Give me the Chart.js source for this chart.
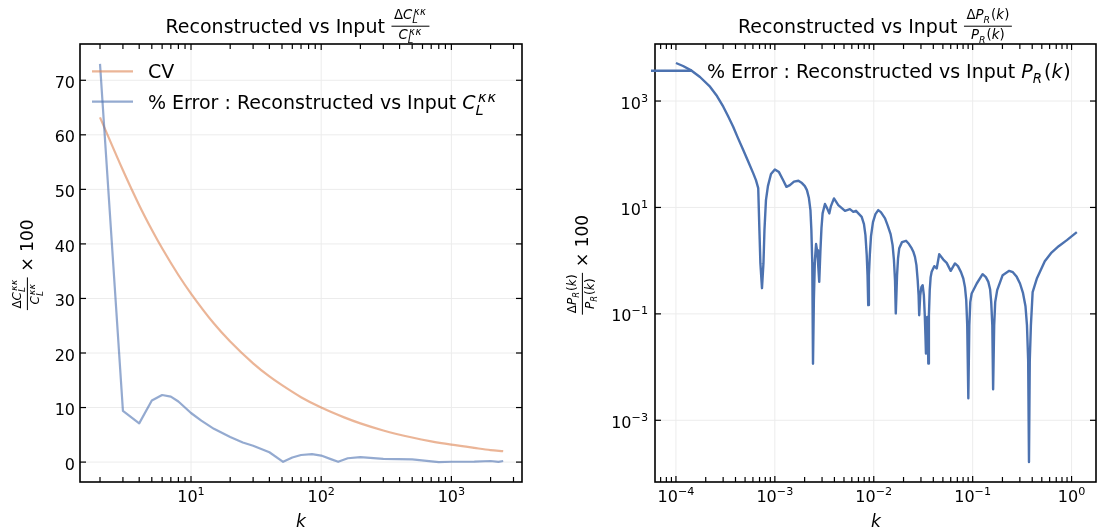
<!DOCTYPE html>
<html>
<head>
<meta charset="utf-8">
<title>Reconstructed vs Input</title>
<script src="https://cdn.jsdelivr.net/npm/chart.js@4.4.1/dist/chart.umd.min.js"></script>
<style>
    html, body { margin: 0; padding: 0; background: #fff; }
    #wrap { position: relative; width: 1097px; height: 531px; overflow: hidden; background: #fff; }
    canvas { position: absolute; top: 0; }
    #c1 { left: 0; }
    #c2 { left: 548px; }
</style>
</head>
<body>
<div id="wrap">
    <canvas id="c1" width="548" height="531"></canvas>
    <canvas id="c2" width="549" height="531"></canvas>
</div>
<script>
    'use strict'

    // left panel: % error of reconstructed C_L^kk and the cosmic variance
    var clK = [2, 3, 4, 5, 6, 7, 8, 10, 12, 15, 20, 25, 30, 40, 51, 60, 70, 85, 100, 120, 135, 160, 200, 300, 500, 800, 1000, 1500, 2000, 2300, 2500];
    var clErr = [73.0, 9.4, 7.1, 11.3, 12.3, 12.0, 11.1, 9.0, 7.6, 6.1, 4.6, 3.6, 3.0, 1.8, 0.05, 0.85, 1.3, 1.45, 1.2, 0.5, 0.05, 0.7, 0.9, 0.6, 0.5, 0.0, 0.06, 0.1, 0.2, 0.05, 0.2];
    var cvK = [2, 3, 4, 5, 6, 8, 10, 15, 20, 30, 40, 50, 70, 100, 150, 200, 300, 500, 700, 1000, 1500, 2000, 2500];
    var cvPct = [63.2, 53.5, 47.1, 42.6, 39.2, 34.3, 30.9, 25.4, 22.1, 18.1, 15.7, 14.1, 11.9, 10.0, 8.2, 7.1, 5.8, 4.5, 3.8, 3.2, 2.6, 2.2, 2.0];

    // right panel: % error of reconstructed P_R(k)
    var pkK = [
        1.0e-4, 1.18e-4, 1.44e-4, 1.75e-4, 2.21e-4, 2.60e-4, 3.01e-4, 3.36e-4, 3.79e-4, 4.24e-4,
        4.79e-4, 5.35e-4, 6.05e-4, 6.44e-4, 6.79e-4, 6.98e-4, 7.14e-4, 7.41e-4, 7.67e-4, 7.85e-4,
        8.13e-4, 8.51e-4, 9.14e-4, 1.00e-3, 1.10e-3, 1.21e-3, 1.31e-3, 1.42e-3, 1.56e-3, 1.73e-3,
        1.88e-3, 2.01e-3, 2.11e-3, 2.21e-3, 2.29e-3, 2.34e-3, 2.39e-3, 2.43e-3, 2.48e-3, 2.54e-3,
        2.61e-3, 2.67e-3, 2.73e-3, 2.81e-3, 2.89e-3, 2.96e-3, 3.04e-3, 3.21e-3, 3.37e-3, 3.55e-3,
        3.69e-3, 3.96e-3, 4.38e-3, 5.12e-3, 5.74e-3, 6.21e-3, 6.61e-3, 7.55e-3, 7.96e-3, 8.24e-3,
        8.49e-3, 8.65e-3, 8.79e-3, 8.93e-3, 9.12e-3, 9.38e-3, 9.82e-3, 1.04e-2, 1.11e-2, 1.18e-2,
        1.30e-2, 1.39e-2, 1.48e-2, 1.55e-2, 1.60e-2, 1.64e-2, 1.67e-2, 1.72e-2, 1.76e-2, 1.81e-2,
        1.93e-2, 2.12e-2, 2.27e-2, 2.42e-2, 2.52e-2, 2.61e-2, 2.70e-2, 2.78e-2, 2.84e-2, 2.88e-2,
        2.95e-2, 3.03e-2, 3.12e-2, 3.21e-2, 3.28e-2, 3.33e-2, 3.37e-2, 3.42e-2, 3.47e-2, 3.52e-2,
        3.56e-2, 3.61e-2, 3.68e-2, 3.76e-2, 3.85e-2, 4.09e-2, 4.33e-2, 4.59e-2, 5.05e-2, 5.46e-2,
        6.00e-2, 6.62e-2, 7.10e-2, 7.62e-2, 8.04e-2, 8.36e-2, 8.61e-2, 8.81e-2, 9.04e-2, 9.25e-2,
        9.46e-2, 9.77e-2, 0.110, 0.126, 0.136, 0.144, 0.150, 0.154, 0.158, 0.161,
        0.165, 0.169, 0.177, 0.201, 0.234, 0.255, 0.279, 0.301, 0.323, 0.342,
        0.354, 0.364, 0.371, 0.378, 0.388, 0.404, 0.447, 0.536, 0.619, 0.741,
        0.897, 1.13];
    var pkErr = [
        5190, 4550, 3720, 2830, 1860, 1240, 782, 522, 329, 201,
        120, 74.4, 43.7, 32.7, 23.1, 3.75, 0.897, 0.304, 0.897, 3.75,
        13.7, 25.2, 42.4, 51.9, 46.2, 32.7, 24.4, 26.3, 30.6, 31.7,
        28.7, 25.2, 21.2, 15.0, 8.91, 3.75, 0.897, 0.0116, 0.181, 1.02,
        2.05, 1.58, 0.938, 0.399, 1.58, 4.08, 7.73, 11.6, 9.72, 7.73,
        10.6, 14.8, 11.1, 8.65, 9.31, 8.28, 8.65, 6.67, 4.86, 3.02,
        1.27, 0.534, 0.146, 0.534, 1.27, 2.89, 5.30, 7.50, 8.91, 8.17,
        6.22, 4.46, 3.15, 1.96, 1.02, 0.430, 0.102, 0.534, 1.11, 1.72,
        2.23, 2.36, 2.05, 1.70, 1.45, 1.18, 0.824, 0.430, 0.224, 0.0944,
        0.224, 0.318, 0.346, 0.224, 0.0944, 0.0397, 0.0180, 0.0493, 0.0877, 0.0397,
        0.0117, 0.0944, 0.279, 0.490, 0.617, 0.789, 0.713, 1.32, 1.05, 0.910,
        0.643, 0.887, 0.789, 0.608, 0.462, 0.318, 0.181, 0.0612, 0.00259, 0.0612,
        0.166, 0.242, 0.372, 0.557, 0.490, 0.399, 0.291, 0.166, 0.0612, 0.00383,
        0.0612, 0.166, 0.279, 0.534, 0.643, 0.608, 0.496, 0.372, 0.245, 0.139,
        0.0612, 0.0135, 1.64e-4, 0.0135, 0.0612, 0.256, 0.469, 0.979, 1.38, 1.87,
        2.43, 3.44];

    // tick labels
    var clYTicks = [0, 10, 20, 30, 40, 50, 60, 70];
    var clXExp = [1, 2, 3];
    var pkXExp = [-4, -3, -2, -1, 0];
    var pkYExp = [-3, -1, 1, 3];

    var BLUE = '#4c72b0';
    var FONT = '"DejaVu Sans"';

    function setFont(ctx, size, italic) {
        ctx.font = (italic ? 'italic ' : '') + size + 'px ' + FONT;
    }

    function spacedWidth(ctx, text, ls) {
        return text ? ctx.measureText(text).width + (ls || 0) * text.length : 0;
    }

    function spacedText(ctx, text, x, y, ls) {
        for (var i = 0; i < text.length; i++) {
            ctx.fillText(text[i], x, y);
            x += ctx.measureText(text[i]).width + (ls || 0);
        }
    }

    // tiny math-text layout: plain runs, gaps, stacked scripts and fractions
    function runWidth(ctx, r) {
        if (r.gap) return r.gap;
        if (r.num) return Math.max(runsWidth(ctx, r.num), runsWidth(ctx, r.den)) + 2 * r.pad;
        if (r.sup !== undefined) {
            setFont(ctx, r.s, true);
            return Math.max((r.lead || 0) + spacedWidth(ctx, r.sup, r.ls), spacedWidth(ctx, r.sub, 0)) + 0.5;
        }
        setFont(ctx, r.s, r.i);
        return ctx.measureText(r.t).width;
    }

    function runsWidth(ctx, runs) {
        var w = 0;
        runs.forEach(function (r) { w += runWidth(ctx, r); });
        return w;
    }

    function drawRuns(ctx, runs, x, y) {
        runs.forEach(function (r) {
            var w = runWidth(ctx, r);
            if (r.gap) {
                // nothing to draw
            } else if (r.num) {
                var bar = y - r.axis;
                ctx.fillRect(x + 0.5, bar - 0.5, w - 1, 1);
                drawRuns(ctx, r.num, x + (w - runsWidth(ctx, r.num)) / 2, bar - r.nUp);
                drawRuns(ctx, r.den, x + (w - runsWidth(ctx, r.den)) / 2, bar + r.dDn);
            } else if (r.sup !== undefined) {
                setFont(ctx, r.s, true);
                if (r.sup) spacedText(ctx, r.sup, x + (r.lead || 0), y - r.up, r.ls);
                if (r.sub) ctx.fillText(r.sub, x, y + r.dn);
            } else {
                setFont(ctx, r.s, r.i);
                ctx.fillText(r.t, x, y + (r.dy || 0));
            }
            x += w;
        });
    }

    // C_L^{kappa kappa}
    function ckk(s, ss, up, dn, ls, lead) {
        return [{ t: 'C', s: s, i: true },
            { sup: '\u03ba\u03ba', sub: 'L', s: ss, up: up, dn: dn, ls: ls, lead: lead }];
    }

    // P_R(k)
    function prk(s, ss, dn, g) {
        return [{ t: 'P', s: s, i: true }, { sup: '', sub: 'R', s: ss, dn: dn }, { gap: g },
            { t: '(', s: s }, { t: 'k', s: s, i: true }, { gap: g / 2 }, { t: ')', s: s }];
    }

    function pow10(exp, size) {
        var e = exp < 0 ? '\u2212' + (-exp) : String(exp);
        return [{ t: '10', s: size }, { t: e, s: size * 0.7, dy: -size * 0.44 }];
    }

    function frac(f, num, den) {
        return { num: num, den: den, axis: f.axis, nUp: f.nUp, dDn: f.dDn, pad: f.pad };
    }

    function minorTicks(min, max) {
        var out = [];
        for (var e = Math.floor(Math.log10(min)); e <= Math.ceil(Math.log10(max)); e++) {
            for (var m = 2; m < 10; m++) {
                var v = m * Math.pow(10, e);
                if (v > min && v < max) out.push(v);
            }
        }
        return out;
    }

    function hline(ctx, x0, x1, y) { ctx.beginPath(); ctx.moveTo(x0, y); ctx.lineTo(x1, y); ctx.stroke(); }
    function vline(ctx, x, y0, y1) { ctx.beginPath(); ctx.moveTo(x, y0); ctx.lineTo(x, y1); ctx.stroke(); }

    // frame, inward ticks, grid, labels, legend and title drawn by hand
    function decorate(spec) {
        return {
            id: 'decorate',
            beforeDatasetsDraw: function (chart) {
                var ctx = chart.ctx, a = chart.chartArea, sx = chart.scales.x, sy = chart.scales.y;
                ctx.save();
                ctx.strokeStyle = '#ececec';
                ctx.lineWidth = 1;
                spec.xTicks.forEach(function (t) { vline(ctx, sx.getPixelForValue(t.v), a.top, a.bottom); });
                spec.yTicks.forEach(function (t) { hline(ctx, a.left, a.right, sy.getPixelForValue(t.v)); });
                ctx.restore();
            },
            afterDatasetsDraw: function (chart) {
                var ctx = chart.ctx, a = chart.chartArea, sx = chart.scales.x, sy = chart.scales.y;
                ctx.save();
                ctx.strokeStyle = '#000';
                ctx.fillStyle = '#000';

                ctx.lineWidth = 1.2;
                spec.xTicks.forEach(function (t) {
                    var p = sx.getPixelForValue(t.v);
                    vline(ctx, p, a.bottom, a.bottom - 6);
                    vline(ctx, p, a.top, a.top + 6);
                });
                spec.xMinor.forEach(function (v) {
                    var p = sx.getPixelForValue(v);
                    vline(ctx, p, a.bottom, a.bottom - 5);
                    vline(ctx, p, a.top, a.top + 5);
                });
                spec.yTicks.forEach(function (t) {
                    var p = sy.getPixelForValue(t.v);
                    hline(ctx, a.left, a.left + 6, p);
                    hline(ctx, a.right, a.right - 6, p);
                });

                ctx.lineWidth = 1.6;
                ctx.strokeRect(a.left, a.top, a.right - a.left, a.bottom - a.top);

                ctx.textAlign = 'left';
                ctx.textBaseline = 'alphabetic';
                spec.xTicks.forEach(function (t) {
                    var w = runsWidth(ctx, t.runs);
                    drawRuns(ctx, t.runs, sx.getPixelForValue(t.v) - w / 2, 502);
                });
                spec.yTicks.forEach(function (t) {
                    var w = runsWidth(ctx, t.runs);
                    drawRuns(ctx, t.runs, spec.yTickRight - w, sy.getPixelForValue(t.v) + 7.6);
                });

                // legend
                ctx.lineWidth = spec.legendWidth;
                spec.legend.forEach(function (e) {
                    ctx.strokeStyle = e.color;
                    hline(ctx, spec.legendX[0], spec.legendX[1], e.y);
                    drawRuns(ctx, e.runs, spec.legendX[2], e.y + 6.8);
                });

                // title and axis labels
                drawRuns(ctx, spec.title, spec.titleX, 32.5);

                setFont(ctx, 17, true);
                ctx.textAlign = 'center';
                ctx.fillText('k', spec.cx, 527);
                ctx.textAlign = 'left';

                ctx.translate(spec.yLabelX, 265);
                ctx.rotate(-Math.PI / 2);
                var lw = runsWidth(ctx, spec.yLabel);
                drawRuns(ctx, spec.yLabel, -lw / 2, 0);
                ctx.restore();
            }
        };
    }

    function points(xs, ys) {
        return xs.map(function (x, i) { return { x: x, y: ys[i] }; });
    }

    function baseOptions(pad, xmin, xmax, ytype, ymin, ymax) {
        return {
            responsive: false,
            animation: false,
            events: [],
            layout: { padding: pad },
            plugins: { legend: { display: false }, tooltip: { enabled: false } },
            elements: { point: { radius: 0 } },
            scales: {
                x: { type: 'logarithmic', display: false, bounds: 'data', min: xmin, max: xmax },
                y: { type: ytype, display: false, bounds: 'data', min: ymin, max: ymax }
            }
        };
    }

    var titleFrac = { axis: 6.3, nUp: 7.2, dDn: 12.8, pad: 3 };
    var labelFrac = { axis: 5.6, nUp: 6.4, dDn: 11.3, pad: 2 };

    // ---- left chart ----
    var leftX = [1.404, 3487];
    new Chart(document.getElementById('c1').getContext('2d'), {
        type: 'line',
        data: {
            datasets: [{
                label: '% Error : Reconstructed vs Input',
                data: points(clK, clErr),
                borderColor: 'rgba(76, 114, 176, 0.6)',
                borderWidth: 2.2,
                borderJoinStyle: 'round',
                tension: 0
            }, {
                label: 'CV',
                data: points(cvK, cvPct),
                borderColor: 'rgba(221, 132, 82, 0.6)',
                borderWidth: 2.2,
                cubicInterpolationMode: 'monotone'
            }]
        },
        options: baseOptions({ left: 80, right: 26, top: 44, bottom: 49 }, leftX[0], leftX[1], 'linear', -3.65, 76.65),
        plugins: [decorate({
            cx: 301,
            titleX: 165.5,
            xTicks: clXExp.map(function (e) { return { v: Math.pow(10, e), runs: pow10(e, 16) }; }),
            xMinor: minorTicks(leftX[0], leftX[1]),
            yTicks: clYTicks.map(function (v) { return { v: v, runs: [{ t: String(v), s: 16 }] }; }),
            yTickRight: 75,
            legendWidth: 2.2,
            legendX: [92, 133, 148],
            legend: [
                { color: 'rgba(221, 132, 82, 0.6)', y: 71.4, runs: [{ t: 'CV', s: 19 }] },
                {
                    color: 'rgba(76, 114, 176, 0.6)', y: 101.7,
                    runs: [{ t: '% Error : Reconstructed vs Input ', s: 19 }].concat(ckk(19, 14.5, 7, 6, 0.8, 2.5))
                }
            ],
            title: [{ t: 'Reconstructed vs Input ', s: 19 },
                frac(titleFrac, [{ t: '\u0394', s: 13.3 }].concat(ckk(13.3, 10, 4.5, 4.4, 0.5, 1.3)),
                    ckk(13.3, 10, 4.5, 4.4, 0.5, 1.3))],
            yLabelX: 33,
            yLabel: [frac(labelFrac, [{ t: '\u0394', s: 12 }].concat(ckk(12, 9, 4, 4, 0.4, 1.2)),
                ckk(12, 9, 4, 4, 0.4, 1.2)),
                { t: ' \u00d7 100', s: 17 }]
        })]
    });

    // ---- right chart ----
    var rightX = [6.14e-5, 1.766];
    new Chart(document.getElementById('c2').getContext('2d'), {
        type: 'line',
        data: {
            datasets: [{
                label: '% Error : Reconstructed vs Input P_R(k)',
                data: points(pkK, pkErr),
                borderColor: BLUE,
                borderWidth: 2.4,
                borderJoinStyle: 'round',
                tension: 0
            }]
        },
        options: baseOptions({ left: 107, right: 1, top: 44, bottom: 49 }, rightX[0], rightX[1], 'logarithmic', 6.92e-5, 1.18e4),
        plugins: [decorate({
            cx: 328,
            titleX: 190,
            xTicks: pkXExp.map(function (e) { return { v: Math.pow(10, e), runs: pow10(e, 16) }; }),
            xMinor: minorTicks(rightX[0], rightX[1]),
            yTicks: pkYExp.map(function (e) { return { v: Math.pow(10, e), runs: pow10(e, 16) }; }),
            yTickRight: 100,
            legendWidth: 2.4,
            legendX: [103, 144, 159],
            legend: [{
                color: BLUE, y: 70.7,
                runs: [{ t: '% Error : Reconstructed vs Input ', s: 19 }].concat(prk(19, 13.3, 5, 1.5))
            }],
            title: [{ t: 'Reconstructed vs Input ', s: 19 },
                frac(titleFrac, [{ t: '\u0394', s: 13.3 }].concat(prk(13.3, 9.3, 3.5, 0.5)), prk(13.3, 9.3, 3.5, 0.5))],
            yLabelX: 40,
            yLabel: [frac(labelFrac, [{ t: '\u0394', s: 12 }].concat(prk(12, 8.4, 3, 0.5)), prk(12, 8.4, 3, 0.5)),
                { t: ' \u00d7 100', s: 17 }]
        })]
    });
</script>
</body>
</html>
